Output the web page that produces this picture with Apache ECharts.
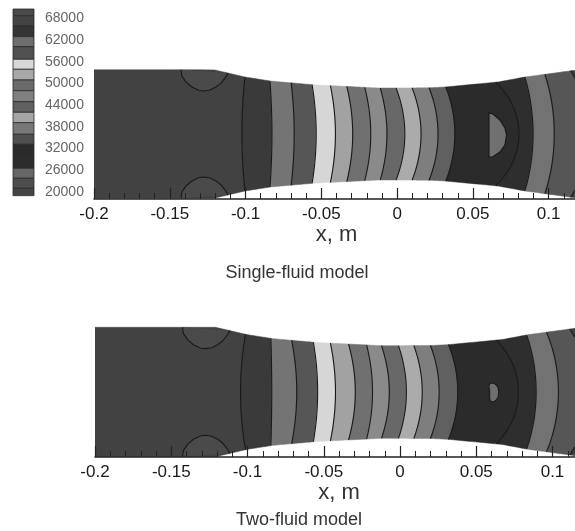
<!DOCTYPE html>
<html><head><meta charset="utf-8">
<style>html,body{margin:0;padding:0;background:#fff;overflow:hidden}#c{width:575px;height:531px}</style>
<script src="https://cdn.jsdelivr.net/npm/echarts@6/dist/echarts.min.js"></script>
</head><body><div id="c"></div>
<script>
// Duct half-height (m) along x (m)
const wallX = [-0.2,-0.1208,-0.1004,-0.0839,-0.0555,-0.0113,0.0216,0.0315,0.0665,0.0843,0.1153,0.125];
const wallR = [0.0424,0.0424,0.0376,0.0350,0.0325,0.0303,0.0305,0.0310,0.0343,0.0376,0.0418,0.0426];
// Contour boundaries: x at the wall and x on the centreline (m)
const singleWall =   [-0.1004,-0.0839,-0.0699,-0.0561,-0.0440,-0.0332,-0.0214,-0.0111,-0.0007,0.0099,0.0211,0.0321,0.0651,0.0843,0.0975,0.1146];
const singleCentre = [-0.1024,-0.0826,-0.0679,-0.0534,-0.0407,-0.0293,-0.0174,-0.0067,0.0051,0.0158,0.0270,0.0381,0.0804,0.0897,0.1037,0.1270];
const twoWall =      [-0.1013,-0.0847,-0.0710,-0.0568,-0.0456,-0.0337,-0.0219,-0.0121,-0.0010,0.0091,0.0200,0.0318,0.0633,0.0830,0.0961,0.1113];
const twoCentre =    [-0.1046,-0.0841,-0.0677,-0.0540,-0.0423,-0.0293,-0.0180,-0.0070,0.0042,0.0146,0.0257,0.0379,0.0777,0.0893,0.1039,0.1245];
// Band grey levels, left to right
const bandColors = ['#424242','#3a3a3a','#747474','#565656','#d6d6d6','#a2a2a2','#707070','#8a8a8a','#686868','#ababab','#7e7e7e','#606060','#2b2b2b','#2e2e2e','#727272','#565656','#3f3f3f'];
// Patches: [x, r] outlines, r measured from centreline
const patchTop = [[-0.1426,0.0424],[-0.1420,0.0383],[-0.1393,0.0343],[-0.1354,0.0310],[-0.1307,0.0287],[-0.1274,0.0284],[-0.1235,0.0290],[-0.1195,0.0310],[-0.1162,0.0336],[-0.1136,0.0369],[-0.1115,0.0402]];
const islandSingle = [[0.0606,0.0139],[0.0632,0.0132],[0.0678,0.0092],[0.0711,0.0040],[0.0722,-0.0007],[0.0711,-0.0073],[0.0678,-0.0119],[0.0632,-0.0150],[0.0606,-0.0152]];
const islandTwo = [[0.0588,0.0052],[0.0632,0.0046],[0.0647,0],[0.0632,-0.0052],[0.0595,-0.0059],[0.0588,0]];
const patchColor = '#4a4a4a';
const islandColor = '#707070';
// Colour bar
const legendEdges = [70615,68760,65908,62945,60176,56687,53918,50955,47992,44946,42010,39130,35918,33149,29716,26504,23735,20966,18920];
const legendColors = ['#4a4a4a','#444444','#343434','#6e6e6e','#505050','#d8d8d8','#a8a8a8','#6a6a6a','#808080','#606060','#a5a5a5','#787878','#505050','#2a2a2a','#2c2c2c','#666666','#4e4e4e','#444444'];
const legendTicks = [20000,26000,32000,38000,44000,50000,56000,62000,68000];
const xTicks = [-0.2,-0.15,-0.1,-0.05,0,0.05,0.1];
const panelTitles = ['Single-fluid model','Two-fluid model'];

function wallAt(x){
  for(let i=1;i<wallX.length;i++){
    if(x<=wallX[i]){const t=(x-wallX[i-1])/(wallX[i]-wallX[i-1]);return wallR[i-1]+t*(wallR[i]-wallR[i-1]);}
  }
  return wallR[wallR.length-1];
}
function boundary(w,c){ // bottom wall -> top wall
  const pts=[];
  for(let k=-8;k<=8;k++){
    const e=k/8, x=c+(w-c)*e*e;
    pts.push([x,e*wallAt(x)]);
  }
  return pts;
}
function wallSegment(x0,x1,sign){
  const out=[];const n=10;
  for(let k=0;k<=n;k++){const x=x0+(x1-x0)*k/n;out.push([x,sign*wallAt(x)]);}
  return out;
}
function bandPolygon(i,W,C){
  const xmin=-0.2,xmax=0.125;
  const lw=i===0?xmin:W[i-1], rw=i===W.length?xmax:W[i];
  let pts=wallSegment(lw,rw,1);
  if(i===W.length) pts.push([xmax,-wallAt(xmax)]);
  else pts=pts.concat(boundary(W[i],C[i]).reverse());
  pts=pts.concat(wallSegment(rw,lw,-1));
  if(i>0) pts=pts.concat(boundary(W[i-1],C[i-1]));
  return pts;
}
function contourSeries(idx,W,C){
  return {
    type:'custom',xAxisIndex:idx,yAxisIndex:idx,coordinateSystem:'cartesian2d',clip:true,silent:true,
    data:bandColors.map((_,i)=>i),z:2,
    renderItem(params,api){
      const i=params.dataIndex;
      const poly=bandPolygon(i,W,C).map(p=>api.coord(p));
      return {type:'polygon',shape:{points:poly},style:{fill:bandColors[i],stroke:bandColors[i],lineWidth:0.5}};
    }
  };
}
function lineSeries(idx,W,C,island,islandSmooth){
  return {
    type:'custom',xAxisIndex:idx,yAxisIndex:idx,coordinateSystem:'cartesian2d',clip:true,silent:true,
    data:W.map((_,i)=>i),z:3,
    renderItem(params,api){
      const i=params.dataIndex, children=[];
      const line={fill:null,stroke:'#181818',lineWidth:1.1};
      children.push({type:'polyline',shape:{points:boundary(W[i],C[i]).map(p=>api.coord(p))},style:line});
      if(i===0){
        const t=patchTop.map(p=>api.coord(p));
        const b=patchTop.map(p=>api.coord([p[0],-p[1]]));
        children.push({type:'polygon',shape:{points:t},style:{fill:patchColor}});
        children.push({type:'polygon',shape:{points:b},style:{fill:patchColor}});
        children.push({type:'polyline',shape:{points:t},style:line});
        children.push({type:'polyline',shape:{points:b},style:line});
        children.push({type:'polygon',shape:{points:island.map(p=>api.coord(p)),smooth:islandSmooth},style:{fill:islandColor,stroke:'#181818',lineWidth:1.1}});
      }
      return {type:'group',children:children};
    }
  };
}
const axisFont={fontFamily:'Liberation Sans, Arial, sans-serif'};
function xAxis(idx){
  return {
    gridIndex:idx,type:'value',min:-0.2,max:0.12,interval:0.05,z:10,
    name:'x, m',nameLocation:'middle',nameGap:idx===0?25:23,
    nameTextStyle:{fontSize:22,color:'#333',...axisFont},
    axisLine:{show:true,onZero:false,lineStyle:{color:'#222',width:1.5}},
    axisTick:{show:true,inside:true,length:11,lineStyle:{color:'#222',width:1.2}},
    minorTick:{show:true,splitNumber:5,length:6,lineStyle:{color:'#222',width:1}},
    splitLine:{show:false},
    axisLabel:{show:true,fontSize:17,color:'#1a1a1a',margin:7,hideOverlap:false,...axisFont,
      formatter:v=>{const m=xTicks.find(t=>Math.abs(t-v)<1e-6);return m===undefined?'':String(m);}}
  };
}
const chart=echarts.init(document.getElementById('c'),null,{renderer:'canvas'});
chart.setOption({
  animation:false,backgroundColor:'#fff',
  title:[
    {text:panelTitles[0],left:297,top:264,padding:0,textAlign:'center',textStyle:{fontSize:18,fontWeight:'normal',color:'#333',...axisFont}},
    {text:panelTitles[1],left:299,top:511,padding:0,textAlign:'center',textStyle:{fontSize:18,fontWeight:'normal',color:'#333',...axisFont}}
  ],
  grid:[
    {left:94,width:485,top:59,height:140,outerBoundsMode:'none'},
    {left:95,width:488,top:316,height:141,outerBoundsMode:'none'},
    {left:13,width:21,top:4,height:195,outerBoundsMode:'none'}
  ],
  xAxis:[xAxis(0),xAxis(1),{gridIndex:2,type:'value',min:0,max:1,show:false}],
  yAxis:[
    {gridIndex:0,type:'value',min:-0.0429,max:0.0495,show:false},
    {gridIndex:1,type:'value',min:-0.0426,max:0.0498,show:false},
    {gridIndex:2,type:'value',min:18000,max:72000,interval:6000,position:'right',
      axisLine:{show:false},axisTick:{show:false},splitLine:{show:false},
      axisLabel:{show:true,fontSize:14,color:'#666',margin:11,...axisFont,
        formatter:v=>String(v),customValues:legendTicks}}
  ],
  series:[
    contourSeries(0,singleWall,singleCentre),
    contourSeries(1,twoWall,twoCentre),
    lineSeries(0,singleWall,singleCentre,islandSingle,0),
    lineSeries(1,twoWall,twoCentre,islandTwo,0.5),
    {type:'custom',xAxisIndex:2,yAxisIndex:2,silent:true,data:legendColors.map((_,i)=>i),
      renderItem(params,api){
        const i=params.dataIndex;
        const a=api.coord([0,legendEdges[i]]),b=api.coord([1,legendEdges[i+1]]);
        return {type:'rect',shape:{x:a[0],y:a[1],width:b[0]-a[0],height:b[1]-a[1]},
          style:{fill:legendColors[i],stroke:'#2a2a2a',lineWidth:0.8}};
      }}
  ]
});
</script></body></html>
